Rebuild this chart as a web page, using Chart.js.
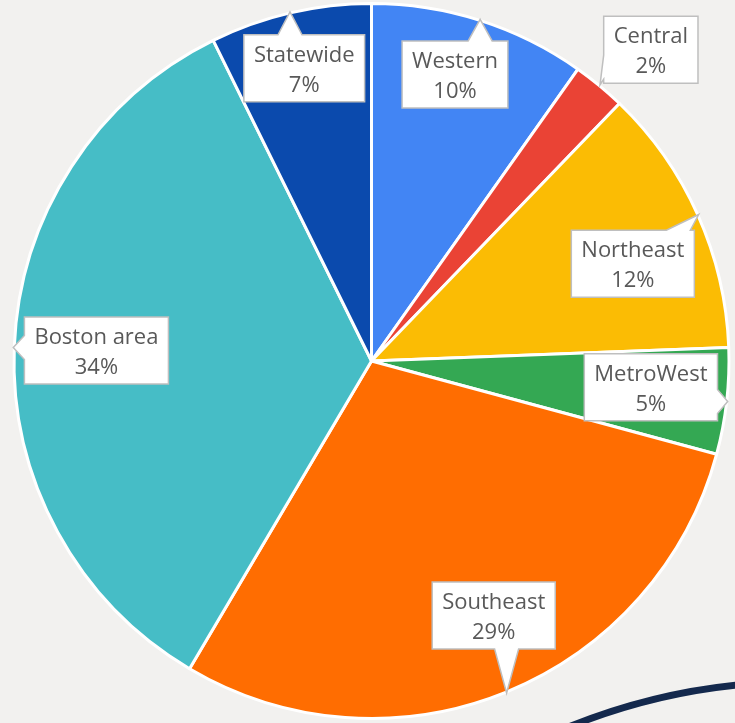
<!DOCTYPE html>
<html>
<head>
<meta charset="utf-8">
<script src="https://cdn.jsdelivr.net/npm/chart.js@4.4.1/dist/chart.umd.min.js"></script>
<style>
  html, body { margin: 0; padding: 0; background: #f2f1ef; }
  #wrap { width: 735px; height: 723px; }
</style>
</head>
<body>
<div id="wrap"><canvas id="pieChart" width="735" height="723"></canvas></div>
<script>
// regions, clockwise from 12 o'clock
var regions = ['Western', 'Central', 'Northeast', 'MetroWest', 'Southeast', 'Boston area', 'Statewide'];
var shares = [9.8, 2.4, 12.2, 4.8, 29.3, 34.2, 7.3];
var colors = ['#4285f4', '#ea4335', '#fbbc04', '#34a853', '#ff6d01', '#46bdc6', '#0b4aad'];

// where each callout box sits: fraction of radius and angle nudge (deg) from slice middle
var calloutDist = [0.835, 1.17, 0.78, 0.785, 0.79, 0.77, 0.84];
var calloutTurn = [-1.4, 2.3, 3.7, -1.1, -3.5, 0, 0.2];

var total = shares.reduce(function (a, b) { return a + b; }, 0);

var callouts = {
    id: 'callouts',
    beforeDatasetsDraw: function (chart) {
        // navy swoosh from the slide behind the chart
        var c = chart.ctx;
        c.save();
        c.strokeStyle = '#14294d';
        c.lineWidth = 7;
        c.beginPath();
        c.arc(800, 1300, 618, Math.PI * 1.22, Math.PI * 1.52);
        c.stroke();
        c.restore();
    },
    afterDatasetsDraw: function (chart) {
        var c = chart.ctx;
        var arcs = chart.getDatasetMeta(0).data;
        c.save();
        c.font = '22px "Open Sans"';
        arcs.forEach(function (arc, i) {
            var p = arc.getProps(['x', 'y', 'startAngle', 'endAngle', 'outerRadius'], true);
            var mid = (p.startAngle + p.endAngle) / 2;
            var r = p.outerRadius + 1;
            var tip = { x: p.x + Math.cos(mid) * r, y: p.y + Math.sin(mid) * r };
            var a = mid + calloutTurn[i] * Math.PI / 180;
            var cx = p.x + Math.cos(a) * p.outerRadius * calloutDist[i];
            var cy = p.y + Math.sin(a) * p.outerRadius * calloutDist[i];
            var pct = Math.round(shares[i] / total * 100) + '%';
            var w = Math.max(c.measureText(regions[i]).width, c.measureText(pct).width) + 20;
            var h = 67;
            var L = cx - w / 2, R = cx + w / 2, T = cy - h / 2, B = cy + h / 2;

            // which side the pointer leaves from
            var nx = (tip.x - cx) / (w / 2), ny = (tip.y - cy) / (h / 2);
            var side = Math.abs(nx) > Math.abs(ny) ? (nx > 0 ? 'r' : 'l') : (ny > 0 ? 'b' : 't');
            var half = 12, m = 4;
            function clamp(v, lo, hi) { return Math.max(lo, Math.min(hi, v)); }

            c.beginPath();
            c.moveTo(L, T);
            if (side === 't') {
                var bx = clamp(tip.x, L + half + m, R - half - m);
                c.lineTo(bx - half, T); c.lineTo(tip.x, tip.y); c.lineTo(bx + half, T);
            }
            c.lineTo(R, T);
            if (side === 'r') {
                var by = clamp(tip.y, T + half + m, B - half - m);
                c.lineTo(R, by - half); c.lineTo(tip.x, tip.y); c.lineTo(R, by + half);
            }
            c.lineTo(R, B);
            if (side === 'b') {
                var bx2 = clamp(tip.x, L + half + m, R - half - m);
                c.lineTo(bx2 + half, B); c.lineTo(tip.x, tip.y); c.lineTo(bx2 - half, B);
            }
            c.lineTo(L, B);
            if (side === 'l') {
                var by2 = clamp(tip.y, T + half + m, B - half - m);
                c.lineTo(L, by2 + half); c.lineTo(tip.x, tip.y); c.lineTo(L, by2 - half);
            }
            c.closePath();
            c.fillStyle = '#ffffff';
            c.fill();
            c.strokeStyle = '#bfbfbf';
            c.lineWidth = 1.5;
            c.stroke();

            c.fillStyle = '#595959';
            c.textAlign = 'center';
            c.textBaseline = 'middle';
            c.fillText(regions[i], cx, cy - 13);
            c.fillText(pct, cx, cy + 17);
        });
        c.restore();
    }
};

var ctx = document.getElementById('pieChart').getContext('2d');
var myChart = new Chart(ctx, {
    type: 'pie',
    data: {
        labels: regions,
        datasets: [{
            data: shares,
            backgroundColor: colors,
            borderColor: '#ffffff',
            borderWidth: 3
        }]
    },
    options: {
        responsive: false,
        animation: false,
        layout: { padding: { left: 12, right: 4, top: 2, bottom: 3 } },
        plugins: {
            legend: { display: false },
            tooltip: { enabled: false }
        }
    },
    plugins: [callouts]
});
</script>
</body>
</html>
